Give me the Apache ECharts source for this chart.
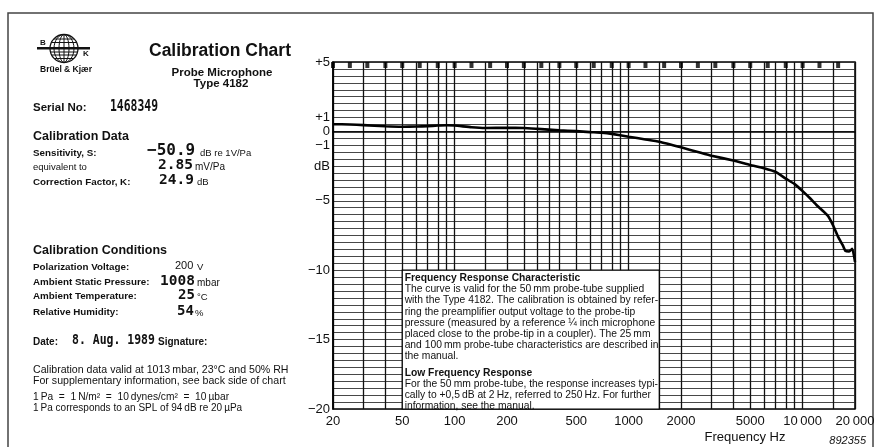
<!DOCTYPE html>
<html><head><meta charset="utf-8">
<script src="https://cdn.jsdelivr.net/npm/echarts@6/dist/echarts.min.js"></script>
<style>html,body{margin:0;padding:0;background:#fff}#c{width:879px;height:447px}</style>
</head><body><div id="c"></div>
<script>
// ---- data ----
const freqHz = [20,25,30,40,50,60,70,80,90,100,125,150,200,250,300,400,500,600,700,800,1000,1250,1500,2000,2500,3000,4000,5000,6000,7000,8000,9000,10000,11000,12000,13000,14000,15000,16000,17000,17600,18500,19300,20000];
const responseDb = [0.52,0.5,0.45,0.37,0.34,0.35,0.38,0.42,0.44,0.42,0.3,0.25,0.26,0.24,0.18,0.08,0.02,-0.05,-0.1,-0.18,-0.38,-0.58,-0.75,-1.15,-1.48,-1.75,-2.1,-2.42,-2.65,-2.92,-3.4,-3.8,-4.3,-4.8,-5.3,-5.7,-6.1,-6.8,-7.6,-8.2,-8.6,-8.65,-8.45,-9.4];
const gridFreqs = [20,30,40,50,60,70,80,90,100,150,200,250,300,350,400,500,600,700,800,900,1000,1500,2000,3000,4000,5000,6000,7000,8000,9000,10000,15000,20000];
const labelFreqs = [20,50,100,200,500,1000,2000,5000,10000,20000];
const thirdOctaveFreqs = [20,25,31.5,40,50,63,80,100,125,160,200,250,315,400,500,630,800,1000,1250,1600,2000,2500,3150,4000,5000,6300,8000,10000,12500,16000];
const yTickLabels = {'5':'+5','1':'+1','0':'0','-1':'\u22121','-2.5':'dB','-5':'\u22125','-10':'\u221210','-15':'\u221215','-20':'\u221220'};
const noteFromHz = 50, noteToHz = 1500, noteTopDb = -10, noteBottomDb = -20;

const L = Math.log10;
const SANS = '"Liberation Sans", Arial, Helvetica, sans-serif';
const MONO = '"DejaVu Sans Mono", monospace';

const noteText = [
  '{b|Frequency Response Characteristic}',
  '{n|The curve is valid for the 50\u2009mm probe-tube supplied}',
  '{n|with the Type 4182. The calibration is obtained by refer-}',
  '{n|ring the preamplifier output voltage to the probe-tip}',
  '{n|pressure (measured by a reference \u00BC inch microphone}',
  '{n|placed close to the probe-tip in a coupler). The 25\u2009mm}',
  '{n|and 100\u2009mm probe-tube characteristics are described in}',
  '{n|the manual.}',
  '{g| }',
  '{b|Low Frequency Response}',
  '{n|For the 50\u2009mm probe-tube, the response increases typi-}',
  '{n|cally to +0,5\u2009dB at 2\u2009Hz, referred to 250\u2009Hz. For further}',
  '{n|information, see the manual.}'
].join('\n');

function T(x, y, text, font, align, sx) {
  return { type: 'text', x: x, y: y, scaleX: sx || 1, silent: true, z: 10,
    style: { text: text, font: font, fill: '#111', align: align || 'left', verticalAlign: 'middle',
             textAlign: align || 'left', textVerticalAlign: 'middle' } };
}

const graphics = [
  { type: 'polyline', silent: true, shape: { points: [[8,447],[8,13],[873,13],[873,447]] },
    style: { stroke: '#444', lineWidth: 1.5, fill: null } },
  // logo globe
  { type: 'circle', silent: true, shape: { cx: 64, cy: 48.5, r: 14 }, style: { stroke: '#111', lineWidth: 1.3, fill: '#fff' } },
  { type: 'ellipse', silent: true, shape: { cx: 64, cy: 48.5, rx: 5, ry: 14 }, style: { stroke: '#111', lineWidth: 1, fill: null } },
  { type: 'ellipse', silent: true, shape: { cx: 64, cy: 48.5, rx: 10, ry: 14 }, style: { stroke: '#111', lineWidth: 1, fill: null } },
  { type: 'line', silent: true, shape: { x1: 64, y1: 34.5, x2: 64, y2: 62.5 }, style: { stroke: '#111', lineWidth: 1 } },
  { type: 'line', silent: true, shape: { x1: 54, y1: 39, x2: 74, y2: 39 }, style: { stroke: '#111', lineWidth: 1 } },
  { type: 'line', silent: true, shape: { x1: 51.5, y1: 42.5, x2: 76.5, y2: 42.5 }, style: { stroke: '#111', lineWidth: 1 } },
  { type: 'line', silent: true, shape: { x1: 50.5, y1: 52, x2: 77.5, y2: 52 }, style: { stroke: '#111', lineWidth: 1 } },
  { type: 'line', silent: true, shape: { x1: 51.5, y1: 55, x2: 76.5, y2: 55 }, style: { stroke: '#111', lineWidth: 1 } },
  { type: 'line', silent: true, shape: { x1: 54, y1: 58.5, x2: 74, y2: 58.5 }, style: { stroke: '#111', lineWidth: 1 } },
  { type: 'rect', silent: true, shape: { x: 37, y: 47, width: 53, height: 2.5 }, style: { fill: '#111' } },
  T(43, 42.5, 'B', 'bold 8px ' + SANS, 'center'),
  T(86, 54, 'K', 'bold 8px ' + SANS, 'center'),
  T(66, 70, 'Br\u00FCel & Kj\u00E6r', 'bold 8.5px ' + SANS, 'center'),
  // header
  T(149, 51, 'Calibration Chart', 'bold 17.5px ' + SANS),
  T(222, 73, 'Probe Microphone', 'bold 11.5px ' + SANS, 'center'),
  T(221, 84, 'Type 4182', 'bold 11.5px ' + SANS, 'center'),
  T(33, 108, 'Serial No:', 'bold 11.5px ' + SANS),
  T(110, 107, '1468349', 'bold 15px ' + MONO, 'left', 0.76),
  T(33, 137, 'Calibration Data', 'bold 12.5px ' + SANS),
  T(33, 153, 'Sensitivity, S:', 'bold 9.8px ' + SANS),
  T(147, 151, '\u221250.9', 'bold 16px ' + MONO),
  T(200, 153, 'dB re 1V/Pa', '9.5px ' + SANS),
  T(33, 167, 'equivalent to', '9.5px ' + SANS),
  T(158, 165, '2.85', 'bold 14.5px ' + MONO),
  T(195, 167, 'mV/Pa', '10px ' + SANS),
  T(33, 182, 'Correction Factor, K:', 'bold 9.8px ' + SANS),
  T(159, 180, '24.9', 'bold 14.5px ' + MONO),
  T(197, 182, 'dB', '9.5px ' + SANS),
  T(33, 251, 'Calibration Conditions', 'bold 12.5px ' + SANS),
  T(33, 267, 'Polarization Voltage:', 'bold 9.8px ' + SANS),
  T(175, 266, '200', '11px ' + SANS),
  T(197, 267, 'V', '9.5px ' + SANS),
  T(33, 282, 'Ambient Static Pressure:', 'bold 9.8px ' + SANS),
  T(160, 281, '1008', 'bold 14.5px ' + MONO),
  T(197, 283, 'mbar', '10px ' + SANS),
  T(33, 296, 'Ambient Temperature:', 'bold 9.8px ' + SANS),
  T(178, 295, '25', 'bold 14px ' + MONO),
  T(197, 297, '\u00B0C', '9.5px ' + SANS),
  T(33, 312, 'Relative Humidity:', 'bold 9.8px ' + SANS),
  T(177, 311, '54', 'bold 14px ' + MONO),
  T(195, 313, '%', '9.5px ' + SANS),
  T(33, 342, 'Date:', 'bold 10px ' + SANS),
  T(72, 340, '8. Aug. 1989', 'bold 14px ' + MONO, 'left', 0.82),
  T(158, 342, 'Signature:', 'bold 10px ' + SANS),
  T(33, 370, 'Calibration data valid at 1013\u2009mbar, 23\u00B0C and 50% RH', '10.6px ' + SANS),
  T(33, 381, 'For supplementary information, see back side of chart', '10.6px ' + SANS),
  T(33, 397, '1\u2009Pa  =  1\u2009N/m\u00B2  =  10\u2009dynes/cm\u00B2  =  10\u2009\u00B5bar', '10.2px ' + SANS),
  T(33, 408, '1\u2009Pa corresponds to an SPL of 94\u2009dB re 20\u2009\u00B5Pa', '10px ' + SANS),
  // axis title + code
  T(745, 437, 'Frequency Hz', '13px ' + SANS, 'center'),
  T(866, 441, '892355', 'italic 11px ' + SANS, 'right')
];

const chart = echarts.init(document.getElementById('c'), null, { renderer: 'canvas' });
chart.setOption({
  animation: false,
  backgroundColor: '#fff',
  grid: { left: 333, right: 24, top: 62, bottom: 38, show: true, borderColor: '#000', borderWidth: 1.5, backgroundColor: 'transparent' },
  xAxis: {
    type: 'value', min: L(20), max: L(20000),
    axisLine: { show: true, lineStyle: { color: '#000', width: 1.5 } },
    axisTick: { show: false, customValues: gridFreqs.map(L) },
    splitLine: { show: true, lineStyle: { color: '#111', width: 1.3 } },
    axisLabel: { customValues: labelFreqs.map(L), margin: 6, color: '#111', fontSize: 13, fontFamily: SANS,
      formatter: v => { const f = Math.round(Math.pow(10, v)); return f >= 10000 ? String(f).replace(/(\d+)(\d{3})$/, '$1\u2009$2') : String(f); } }
  },
  yAxis: {
    type: 'value', min: -20, max: 5, interval: 0.5,
    axisLine: { show: true, lineStyle: { color: '#000', width: 1.5 } },
    axisTick: { show: false },
    splitLine: { show: true, lineStyle: { color: '#333', width: 0.9 } },
    axisLabel: { margin: 3, color: '#111', fontSize: 13, fontFamily: SANS,
      formatter: v => yTickLabels[String(Math.round(v * 2) / 2)] || '' }
  },
  graphic: { elements: graphics },
  series: [
    {
      type: 'line', data: freqHz.map((f, i) => [L(f), responseDb[i]]),
      symbol: 'none', smooth: 0.15, z: 3,
      lineStyle: { color: '#000', width: 2.6 },
      markArea: {
        silent: true,
        itemStyle: { color: '#fff', opacity: 1, borderColor: '#000', borderWidth: 1.2 },
        label: { show: true, position: 'insideTopLeft', distance: 3, formatter: noteText,
          rich: {
            b: { fontFamily: SANS, fontWeight: 'bold', fontSize: 10.3, color: '#111', lineHeight: 11.2 },
            n: { fontFamily: SANS, fontSize: 10.3, color: '#111', lineHeight: 11.2 },
            g: { fontSize: 4, lineHeight: 5 }
          } },
        emphasis: { disabled: true },
        data: [[{ xAxis: L(noteFromHz), yAxis: noteTopDb }, { xAxis: L(noteToHz), yAxis: noteBottomDb }]]
      }
    },
    {
      type: 'scatter', data: thirdOctaveFreqs.map(f => [L(f), 5]),
      symbol: 'rect', symbolSize: [4, 6], symbolOffset: [0, 3], clip: false, silent: true, z: 4,
      itemStyle: { color: '#000' }
    }
  ]
});
</script>
</body></html>
